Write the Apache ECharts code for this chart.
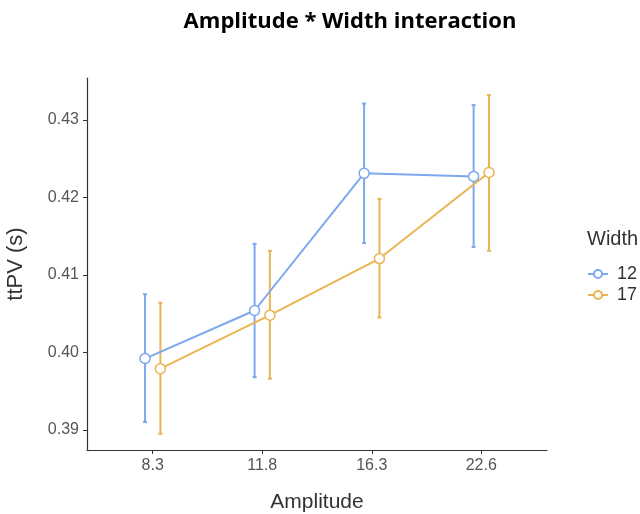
<!DOCTYPE html>
<html>
<head>
<meta charset="utf-8">
<script src="https://cdn.jsdelivr.net/npm/echarts@6/dist/echarts.min.js"></script>
<style>html,body{margin:0;padding:0;background:#fff}#c{width:640px;height:514px}</style>
</head>
<body>
<div id="c"></div>
<script>
const categories = ['8.3', '11.8', '16.3', '22.6'];
const groups = ['12', '17'];
const mean12 = [0.3992, 0.4054, 0.4231, 0.4227];
const lower12 = [0.3910, 0.3968, 0.4141, 0.4136];
const upper12 = [0.4075, 0.4140, 0.4321, 0.4319];
const mean17 = [0.3979, 0.4048, 0.4121, 0.4232];
const lower17 = [0.3895, 0.3966, 0.4045, 0.4131];
const upper17 = [0.4064, 0.4131, 0.4198, 0.4332];
const yTicks = [0.39, 0.40, 0.41, 0.42, 0.43];
const dodge = [-0.07, 0.07];
const colors = ['#7DA7EE', '#E8B552'];

const means = [mean12, mean17];
const lowers = [lower12, lower17];
const uppers = [upper12, upper17];

const series = [];
groups.forEach((g, gi) => {
  series.push({
    type: 'custom',
    name: 'err' + g,
    silent: true,
    z: 2,
    data: categories.map((c, i) => [i + dodge[gi], lowers[gi][i], uppers[gi][i]]),
    renderItem: function (params, api) {
      const x = api.value(0);
      const lo = api.coord([x, api.value(1)]);
      const hi = api.coord([x, api.value(2)]);
      const cap = 2;
      const st = { stroke: colors[gi], lineWidth: 2 };
      return {
        type: 'group',
        children: [
          { type: 'line', shape: { x1: lo[0], y1: lo[1], x2: hi[0], y2: hi[1] }, style: st },
          { type: 'line', shape: { x1: lo[0] - cap, y1: lo[1], x2: lo[0] + cap, y2: lo[1] }, style: st },
          { type: 'line', shape: { x1: hi[0] - cap, y1: hi[1], x2: hi[0] + cap, y2: hi[1] }, style: st }
        ]
      };
    }
  });
});
groups.forEach((g, gi) => {
  series.push({
    type: 'line',
    name: g,
    z: 3,
    color: colors[gi],
    data: categories.map((c, i) => [i + dodge[gi], means[gi][i]]),
    symbol: 'circle',
    symbolSize: 10,
    showSymbol: true,
    lineStyle: { color: colors[gi], width: 2 },
    itemStyle: { color: '#ffffff', borderColor: colors[gi], borderWidth: 1.5 },
    emphasis: { disabled: true }
  });
});

const chart = echarts.init(document.getElementById('c'), null, { renderer: 'canvas' });
chart.setOption({
  animation: false,
  backgroundColor: '#ffffff',
  title: [
    {
      text: 'Amplitude * Width interaction',
      left: 345, top: 6, textAlign: 'center',
      textStyle: { fontFamily: 'Open Sans', fontWeight: 'bold', fontSize: 22, color: '#000' }
    },
    {
      text: 'Width',
      left: 582, top: 224,
      textStyle: { fontFamily: 'Liberation Sans', fontWeight: 'normal', fontSize: 20, color: '#333' }
    }
  ],
  legend: {
    data: groups,
    orient: 'vertical',
    left: 582, top: 260,
    itemWidth: 20, itemHeight: 10,
    itemGap: 3,
    textStyle: { fontFamily: 'Liberation Sans', fontSize: 18, color: '#333', padding: [0, 0, 0, 4] },
    selectedMode: false
  },
  grid: { left: 87, right: 93, top: 78, bottom: 64, containLabel: false, outerBoundsMode: 'none' },
  xAxis: {
    type: 'value',
    min: -0.6, max: 3.6,
    name: 'Amplitude',
    nameLocation: 'middle',
    nameGap: 42,
    nameTextStyle: { fontFamily: 'Liberation Sans', fontSize: 21, color: '#333' },
    splitLine: { show: false },
    axisLine: { show: true, onZero: false, lineStyle: { color: '#333', width: 1.2 } },
    axisTick: { show: true, customValues: [0, 1, 2, 3], length: 4, lineStyle: { color: '#333' } },
    axisLabel: {
      customValues: [0, 1, 2, 3],
      formatter: v => categories[Math.round(v)],
      fontFamily: 'Liberation Sans', fontSize: 16, color: '#555', margin: 8
    }
  },
  yAxis: {
    type: 'value',
    min: 0.3874, max: 0.4354,
    name: 'ttPV (s)',
    nameLocation: 'middle',
    nameGap: 60,
    nameTextStyle: { fontFamily: 'Liberation Sans', fontSize: 22, color: '#333' },
    splitLine: { show: false },
    axisLine: { show: true, onZero: false, lineStyle: { color: '#333', width: 1.2 } },
    axisTick: { show: true, customValues: yTicks, length: 4, lineStyle: { color: '#333' } },
    axisLabel: {
      customValues: yTicks,
      formatter: v => v.toFixed(2),
      fontFamily: 'Liberation Sans', fontSize: 16, color: '#555', margin: 8
    }
  },
  series: series
});
</script>
</body>
</html>
